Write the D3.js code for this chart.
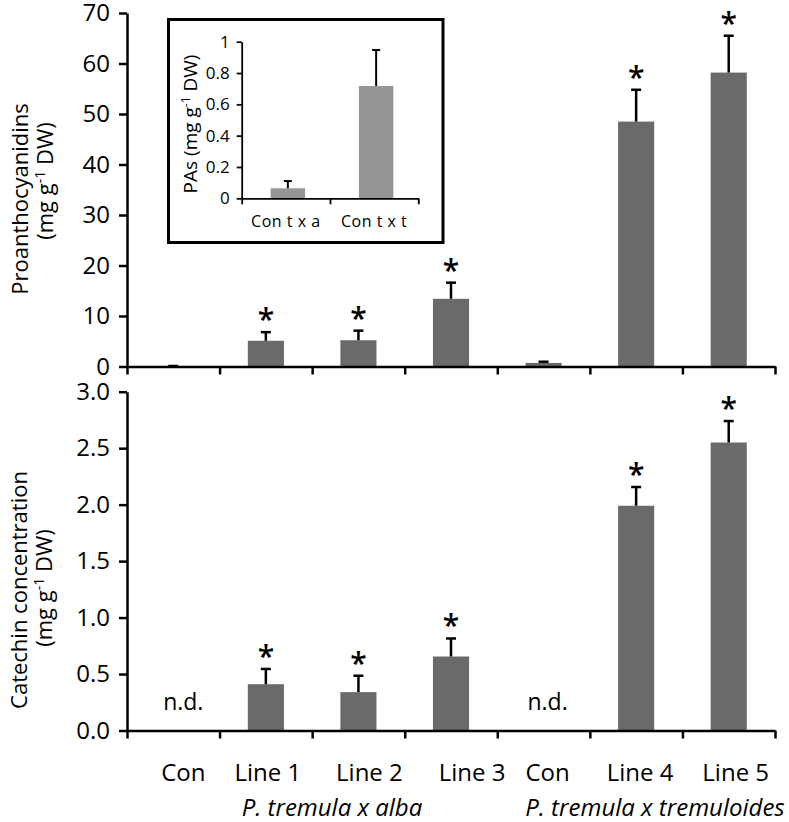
<!DOCTYPE html>
<html><head><meta charset="utf-8">
<script src="https://cdn.jsdelivr.net/npm/d3@7"></script>
<style>
html,body{margin:0;padding:0;background:#fff;}
text{font-family:"Open Sans",sans-serif;fill:#000;}
</style></head>
<body><svg id="c" width="789" height="822"></svg>
<script>
// ---- data ----
const categories = ["Con","Line 1","Line 2","Line 3","Con","Line 4","Line 5"];
const groupLabels = ["P. tremula x alba","P. tremula x tremuloides"];
const paValues = [0.06, 5.1, 5.2, 13.4, 0.71, 48.5, 58.2];
const paErrors = [0.04, 1.7, 1.9, 3.2, 0.24, 6.3, 7.3];
const paSignif = [false, true, true, true, false, true, true];
const paTicks = [0,10,20,30,40,50,60,70];
const catValues = [null, 0.41, 0.34, 0.655, null, 1.99, 2.55];
const catErrors = [0, 0.135, 0.145, 0.16, 0, 0.166, 0.19];
const catSignif = [false, true, true, true, false, true, true];
const catTicks = [0,0.5,1.0,1.5,2.0,2.5,3.0];
const insetCategories = ["Con t x a","Con t x t"];
const insetValues = [0.064, 0.717];
const insetErrors = [0.046, 0.23];
const insetTicks = [0,0.2,0.4,0.6,0.8,1];

// ---- layout ----
const svg = d3.select("#c");
const X0 = 127, X1 = 775;
const labelNudge = [10, 2, 11, 21, 4, 4, 7];
const idx = categories.map((d,i)=>i);
const xBand = d3.scaleBand().domain(idx).range([X0, X1]).padding(0);
const xEdge = d3.scaleLinear().domain([0, categories.length]).range([X0, X1]);
const barW = xBand.bandwidth()*0.39;
const barColor = "#6a6a6a";

function panel(values, errors, signif, ticks, yDomain, yRange, fmt) {
  const y = d3.scaleLinear().domain(yDomain).range(yRange);
  const g = svg.append("g");
  g.selectAll("rect.bar").data(values.map((v,i)=>({v,i})).filter(d=>d.v!==null))
    .join("rect").attr("class","bar")
    .attr("x", d=>xBand(d.i)+xBand.bandwidth()/2-barW/2)
    .attr("width", barW)
    .attr("y", d=>y(d.v))
    .attr("height", d=>y(0)-y(d.v))
    .attr("fill", barColor);
  const eb = values.map((v,i)=>({v,e:errors[i],i,s:signif[i]})).filter(d=>d.v!==null);
  g.selectAll("line.err").data(eb).join("line").attr("class","err")
    .attr("x1", d=>xBand(d.i)+xBand.bandwidth()/2).attr("x2", d=>xBand(d.i)+xBand.bandwidth()/2)
    .attr("y1", d=>y(d.v)).attr("y2", d=>y(d.v+d.e))
    .attr("stroke","#000").attr("stroke-width",2.5);
  g.selectAll("line.cap").data(eb).join("line").attr("class","cap")
    .attr("x1", d=>xBand(d.i)+xBand.bandwidth()/2-5).attr("x2", d=>xBand(d.i)+xBand.bandwidth()/2+5)
    .attr("y1", d=>y(d.v+d.e)).attr("y2", d=>y(d.v+d.e))
    .attr("stroke","#000").attr("stroke-width",2.5);
  g.selectAll("text.sig").data(eb.filter(d=>d.s)).join("text").attr("class","sig")
    .attr("x", d=>xBand(d.i)+xBand.bandwidth()/2)
    .attr("y", d=>y(d.v+d.e)-2)
    .attr("text-anchor","middle").style("font-size","30px").style("font-weight","600").text("*");
  g.selectAll("text.nd").data(values.map((v,i)=>({v,i})).filter(d=>d.v===null))
    .join("text").attr("class","nd")
    .attr("x", d=>xBand(d.i)+xBand.bandwidth()/2+labelNudge[d.i])
    .attr("y", y(0)-21).attr("text-anchor","middle").style("font-size","23px").text("n.d.");
  const ya = g.append("g").attr("transform",`translate(${X0},0)`)
    .call(d3.axisLeft(y).tickValues(ticks).tickFormat(fmt).tickSize(8).tickSizeOuter(0).tickPadding(9));
  ya.select(".domain").attr("stroke-width",2.5);
  ya.selectAll(".tick line").attr("stroke-width",2.5);
  ya.selectAll(".tick text").style("font-size","24px").style("font-family","Open Sans");
  const xa = g.append("g").attr("transform",`translate(0,${y(0)})`)
    .call(d3.axisBottom(xEdge).tickValues(d3.range(categories.length+1)).tickFormat("").tickSize(8).tickSizeOuter(0));
  xa.select(".domain").attr("stroke-width",2.5);
  xa.selectAll(".tick line").attr("stroke-width",2.5);
  return y;
}

panel(paValues, paErrors, paSignif, paTicks, [0,70], [366.5, 13], d3.format("d"));
panel(catValues, catErrors, catSignif, catTicks, [0,3], [730.5, 391.7], d3.format(".1f"));

svg.append("g").selectAll("text").data(categories).join("text")
  .attr("x", (d,i)=>xBand(i)+xBand.bandwidth()/2+labelNudge[i])
  .attr("y", 781).attr("text-anchor","middle").style("font-size","24px").text(d=>d);
const groupX = [332, 655];
svg.append("g").selectAll("text").data(groupLabels).join("text")
  .attr("x",(d,i)=>groupX[i]).attr("y",816).attr("text-anchor","middle")
  .style("font-size","24px").style("font-style","italic").text(d=>d);

function yTitle(cx, cy, line1, cx2, cy2) {
  svg.append("text").attr("transform",`translate(${cx},${cy}) rotate(-90)`)
    .attr("text-anchor","middle").style("font-size","22px").text(line1);
  const t = svg.append("text").attr("transform",`translate(${cx2},${cy2}) rotate(-90)`)
    .attr("text-anchor","middle").style("font-size","22px");
  t.append("tspan").text("(mg g");
  t.append("tspan").attr("dy",-8).style("font-size","14px").text("-1");
  t.append("tspan").attr("dy",8).text(" DW)");
}
yTitle(28, 199, "Proanthocyanidins", 53, 181);
yTitle(27, 590, "Catechin concentration", 52, 588);

// ---- inset ----
const ig = svg.append("g");
ig.append("rect").attr("x",168.5).attr("y",19.5).attr("width",274.5).attr("height",223)
  .attr("fill","#fff").attr("stroke","#000").attr("stroke-width",3);
const ix = d3.scaleBand().domain(insetCategories).range([241.7, 418.3]).padding(0);
const ixe = d3.scaleLinear().domain([0,2]).range([241.7, 418.3]);
const iy = d3.scaleLinear().domain([0,1]).range([198.3, 41.7]);
const ibw = ix.bandwidth()*0.39;
ig.selectAll("rect.ib").data(insetCategories).join("rect").attr("class","ib")
  .attr("x",(d)=>ix(d)+ix.bandwidth()/2-ibw/2+2).attr("width",ibw)
  .attr("y",(d,i)=>iy(insetValues[i])).attr("height",(d,i)=>iy(0)-iy(insetValues[i]))
  .attr("fill","#969696");
ig.selectAll("line.ie").data(insetCategories).join("line").attr("class","ie")
  .attr("x1",d=>ix(d)+ix.bandwidth()/2+2).attr("x2",d=>ix(d)+ix.bandwidth()/2+2)
  .attr("y1",(d,i)=>iy(insetValues[i])).attr("y2",(d,i)=>iy(insetValues[i]+insetErrors[i]))
  .attr("stroke","#000").attr("stroke-width",2);
ig.selectAll("line.ic").data(insetCategories).join("line").attr("class","ic")
  .attr("x1",d=>ix(d)+ix.bandwidth()/2-2).attr("x2",d=>ix(d)+ix.bandwidth()/2+6)
  .attr("y1",(d,i)=>iy(insetValues[i]+insetErrors[i])).attr("y2",(d,i)=>iy(insetValues[i]+insetErrors[i]))
  .attr("stroke","#000").attr("stroke-width",2);
const iya = ig.append("g").attr("transform","translate(241.7,0)")
  .call(d3.axisLeft(iy).tickValues(insetTicks).tickFormat(d=>String(d)).tickSize(5).tickSizeOuter(0).tickPadding(7));
iya.select(".domain").attr("stroke-width",1.8);
iya.selectAll(".tick line").attr("stroke-width",1.8);
iya.selectAll(".tick text").style("font-size","17px").style("font-family","Open Sans");
const ixa = ig.append("g").attr("transform",`translate(0,${iy(0)})`)
  .call(d3.axisBottom(ixe).tickValues([0,1,2]).tickFormat("").tickSize(6).tickSizeOuter(0));
ixa.select(".domain").attr("stroke-width",1.8);
ixa.selectAll(".tick line").attr("stroke-width",1.8);
ig.selectAll("text.il").data(insetCategories).join("text").attr("class","il")
  .attr("x",d=>ix(d)+ix.bandwidth()/2).attr("y",227)
  .attr("text-anchor","middle").style("font-size","16px").style("letter-spacing","0.5px").text(d=>d);
const it = ig.append("text").attr("transform","translate(197,124) rotate(-90)")
  .attr("text-anchor","middle").style("font-size","19px");
it.append("tspan").text("PAs  (mg g");
it.append("tspan").attr("dy",-7).style("font-size","12px").text("-1");
it.append("tspan").attr("dy",7).text(" DW)");
</script></body></html>
